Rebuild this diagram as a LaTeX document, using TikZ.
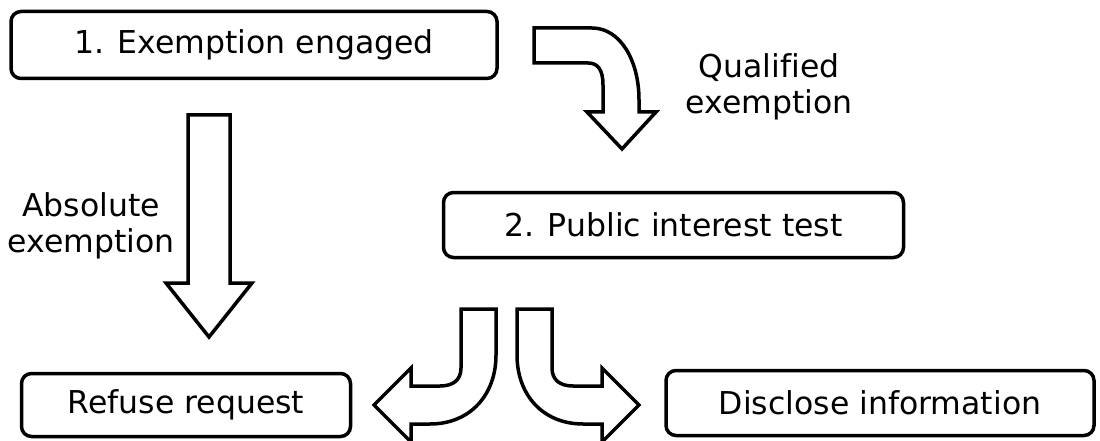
\documentclass[tikz,border=0pt]{standalone}
\usepackage{fontspec}
\setmainfont[Ligatures=NoCommon]{DejaVu Sans}
\tikzset{
    box/.style={draw, line width=3.5pt, rounded corners=10pt, inner sep=0pt},
    bigarrow/.style={draw, line width=3.5pt, line join=miter, fill=white},
    lbl/.style={align=center, inner sep=0pt}
}
\begin{document}
\begin{tikzpicture}[x=1pt, y=-1pt, font=\fontsize{31.5}{35.5}\selectfont]
    \useasboundingbox (0, 0) rectangle (1100, 441);

    % boxes
    \node[box, minimum width=486pt, minimum height=67pt] (engaged) at (254, 45) {1. Exemption engaged};
    \node[box, minimum width=460pt, minimum height=65pt] (pit) at (673.5, 225) {2. Public interest test};
    \node[box, minimum width=329pt, minimum height=63pt] (refuse) at (186, 405) {Refuse request};
    \node[box, minimum width=428pt, minimum height=65pt] (disclose) at (880, 403) {Disclose information};

    % absolute exemption
    \draw[bigarrow] (188, 115) -- (230, 115) -- (230, 283) -- (252, 283)
        -- (209, 337) -- (166, 283) -- (188, 283) -- cycle;
    \node[lbl] (absolute) at (91, 226) {Absolute\\exemption};

    % qualified exemption
    \draw[bigarrow] (534, 28) -- (592, 28) .. controls (620, 28) and (639, 60) .. (639, 100)
        -- (639, 112) -- (656, 112) -- (622, 149) -- (587, 112) -- (603, 112)
        -- (603, 85) .. controls (603, 70) and (598, 63) .. (588, 63) -- (534, 63) -- cycle;
    \node[lbl] (qualified) at (769, 87) {Qualified\\exemption};

    % outcomes of the test
    \draw[bigarrow] (461, 309) -- (496, 309) -- (496, 355) .. controls (496, 395) and (470, 424) .. (430, 424)
        -- (411, 424) -- (411, 442) -- (374, 405) -- (411, 368) -- (411, 386)
        -- (440, 386) .. controls (453, 386) and (461, 380) .. (461, 368) -- cycle;
    \draw[bigarrow] (552, 309) -- (517, 309) -- (517, 355) .. controls (517, 395) and (543, 424) .. (583, 424)
        -- (602, 424) -- (602, 442) -- (639, 405) -- (602, 368) -- (602, 386)
        -- (573, 386) .. controls (560, 386) and (552, 380) .. (552, 368) -- cycle;
\end{tikzpicture}
\end{document}
